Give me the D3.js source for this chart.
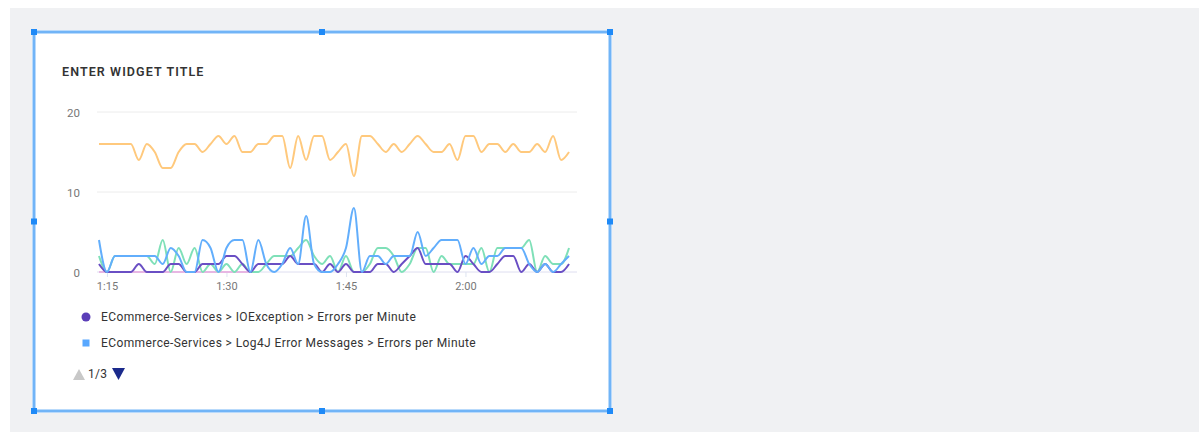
<!DOCTYPE html>
<html>
<head>
<meta charset="utf-8">
<script src="https://cdn.jsdelivr.net/npm/d3@7"></script>
<style>
  html, body { margin: 0; padding: 0; background: #ffffff; }
  svg { display: block; font-family: Roboto, "Open Sans", sans-serif; }
</style>
</head>
<body>
<svg id="chart" width="1199" height="438"></svg>
<script>
// ---------- DATA ----------
const startMinute = 74;            // 1:14
const pointCount = 60;             // one point per minute, 1:14 .. 2:13
const yTicks = [0, 10, 20];
const xTickLabels = ["1:15", "1:30", "1:45", "2:00"];

const orangeValues = [16,16,16,16,16,14,16,15,13,13,15,16,16,15,16,17,16,17,15,15,
                      16,16,17,17,13,17,14,17,17,14,15,16,12,17,17,16,15,16,15,16,
                      17,16,15,15,16,14,17,17,15,16,16,15,16,15,15,16,15,17,14,15];
const blueValues   = [4,0,2,2,2,2,2,2,1,3,2,0,0,4,3,0,3,4,4,0,
                      4,1,0,1,3,1,7,1,0,0,1,3,8,0,2,2,1,2,2,2,
                      5,2,3,4,4,4,1,3,1,2,2,3,3,3,1,0,1,0,1,2];
const purpleValues = [1,0,0,0,0,1,0,0,0,1,1,0,0,1,1,1,2,2,1,0,
                      1,1,1,1,2,1,1,1,0,1,0,1,0,0,0,1,1,0,1,2,
                      3,1,1,1,1,0,2,1,0,0,1,2,2,0,1,0,1,0,0,1];
const greenValues  = [2,0,2,2,2,2,2,1,4,0,3,1,3,0,1,0,1,0,1,0,
                      0,1,2,2,2,3,4,2,1,2,0,2,0,0,1,3,3,2,0,1,
                      3,3,0,2,1,1,1,1,3,0,3,3,3,3,4,0,2,1,1,3];
const pinkValues   = [0,0,0,0,0,0,0,0,0,0,0,0,0,0,0,0,0,0,0,0,0];

const legendLabels = [
  "ECommerce-Services > IOException > Errors per Minute",
  "ECommerce-Services > Log4J Error Messages > Errors per Minute"
];
const widgetTitle = "ENTER WIDGET TITLE";
const pagerText = "1/3";

// ---------- SETUP ----------
const svg = d3.select("#chart");
const base = new Date(2024, 0, 1, 0, 0, 0);
const t = m => new Date(base.getTime() + m * 60000);
const times = d3.range(pointCount).map(i => t(startMinute + i));

// page background
svg.append("rect").attr("x", 10).attr("y", 8).attr("width", 1189).attr("height", 424).attr("fill", "#f0f1f3");

// widget
const W = { x: 34, y: 32, w: 576, h: 379 };
svg.append("rect").attr("x", W.x).attr("y", W.y).attr("width", W.w).attr("height", W.h)
  .attr("fill", "#ffffff").attr("stroke", "#b9dafb").attr("stroke-width", 4);
svg.append("rect").attr("x", W.x).attr("y", W.y).attr("width", W.w).attr("height", W.h)
  .attr("fill", "none").attr("stroke", "#5aa8f6").attr("stroke-width", 1.5);

// handles
const handles = [
  [W.x, W.y], [W.x + W.w / 2, W.y], [W.x + W.w, W.y],
  [W.x, W.y + W.h / 2], [W.x + W.w, W.y + W.h / 2],
  [W.x, W.y + W.h], [W.x + W.w / 2, W.y + W.h], [W.x + W.w, W.y + W.h]
];
svg.selectAll("rect.handle").data(handles).join("rect").attr("class", "handle")
  .attr("x", d => d[0] - 3).attr("y", d => d[1] - 3).attr("width", 6).attr("height", 6)
  .attr("fill", "#1f8af7");

// title
svg.append("text").attr("x", 62).attr("y", 76).text(widgetTitle)
  .attr("font-size", 12.5).attr("font-weight", 600).attr("fill", "#333").attr("letter-spacing", 1.1);

// scales
const x = d3.scaleTime().domain([t(73.75), t(134)]).range([97, 577]);
const y = d3.scaleLinear().domain([0, 20]).range([272, 112]);

// grid
svg.append("g").selectAll("line").data(yTicks).join("line")
  .attr("x1", 97).attr("x2", 577)
  .attr("y1", d => y(d)).attr("y2", d => y(d))
  .attr("stroke", d => d === 0 ? "#dedef0" : "#ececec").attr("stroke-width", 1);

// y axis labels
const yAxis = d3.axisLeft(y).tickValues(yTicks).tickSize(0).tickPadding(0);
const gy = svg.append("g").attr("transform", "translate(80,0)").call(yAxis);
gy.select(".domain").remove();
gy.selectAll("text").attr("font-size", 11.5).attr("fill", "#777").attr("font-family", "Roboto, sans-serif").attr("dy", "0.35em");

// x axis
const xTickTimes = xTickLabels.map(s => { const [h, m] = s.split(":").map(Number); return t(h * 60 + m); });
const xAxis = d3.axisBottom(x).tickValues(xTickTimes).tickFormat((d, i) => xTickLabels[i]).tickSize(5).tickPadding(5);
const gx = svg.append("g").attr("transform", "translate(0,272)").call(xAxis);
gx.select(".domain").remove();
gx.selectAll("line").attr("stroke", "#dde3f0");
gx.selectAll("text").attr("font-size", 11).attr("fill", "#777").attr("font-family", "Roboto, sans-serif");

// lines
const line = d3.line().x((d, i) => x(times[i])).y(d => y(d)).curve(d3.curveMonotoneX);
const series = [
  { values: pinkValues, color: "#e7b6e3" },
  { values: greenValues, color: "#7fe0b8" },
  { values: purpleValues, color: "#6a4fc4" },
  { values: blueValues, color: "#62aefc" },
  { values: orangeValues, color: "#ffc97d" }
];
svg.append("g").selectAll("path").data(series).join("path")
  .attr("d", s => line(s.values)).attr("fill", "none")
  .attr("stroke", s => s.color).attr("stroke-width", 2).attr("stroke-linejoin", "round");

// legend
svg.append("circle").attr("cx", 86).attr("cy", 317).attr("r", 4.5).attr("fill", "#5b3eb8");
svg.append("text").attr("x", 101).attr("y", 321).text(legendLabels[0]).attr("font-size", 12).attr("letter-spacing", 0.4).attr("fill", "#333");
svg.append("rect").attr("x", 82.5).attr("y", 339.5).attr("width", 7).attr("height", 7).attr("fill", "#58a8ff");
svg.append("text").attr("x", 101).attr("y", 347).text(legendLabels[1]).attr("font-size", 12).attr("letter-spacing", 0.4).attr("fill", "#333");

// pager
svg.append("path").attr("d", "M73,380 L79,369 L85,380 Z").attr("fill", "#c8c8c8");
svg.append("text").attr("x", 88).attr("y", 378).text(pagerText).attr("font-size", 12).attr("letter-spacing", 0.3).attr("fill", "#333");
svg.append("path").attr("d", "M112,368 L125,368 L118.5,380 Z").attr("fill", "#1b2a8c");
</script>
</body>
</html>
